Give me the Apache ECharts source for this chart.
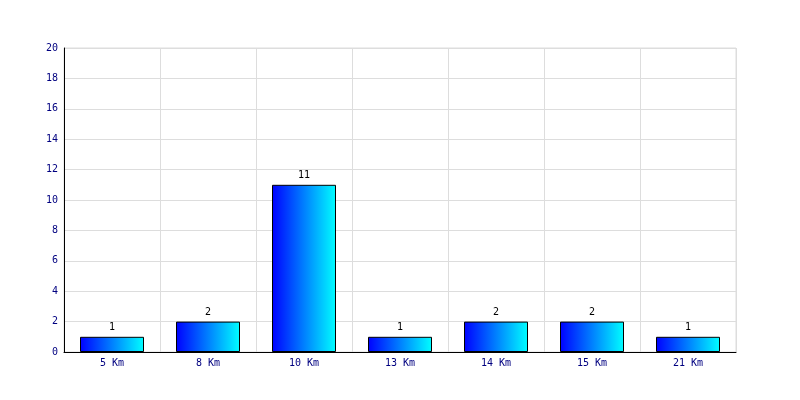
<!DOCTYPE html>
<html><head><meta charset="utf-8">
<script src="https://cdn.jsdelivr.net/npm/echarts@6/dist/echarts.min.js"></script>
<style>html,body{margin:0;padding:0;background:#fff}#c{width:800px;height:400px}</style>
</head><body><div id="c"></div>
<script>
var categories = ['5 Km','8 Km','10 Km','13 Km','14 Km','15 Km','21 Km'];
var values = [1, 2, 11, 1, 2, 2, 1];
var yMin = 0, yMax = 20, yStep = 2;

var chart = echarts.init(document.getElementById('c'), null, {renderer:'canvas'});
var font = '"DejaVu Sans Mono", monospace';
chart.setOption({
  animation: false,
  backgroundColor: '#ffffff',
  grid: {left: 64, right: 64, top: 48, bottom: 48, show: true, borderColor: '#dddddd', borderWidth: 1},
  xAxis: {
    type: 'category', data: categories,
    axisLine: {lineStyle: {color: '#000', width: 1}},
    axisTick: {show: false},
    axisLabel: {color: '#000080', fontFamily: font, fontSize: 10, margin: 6},
    splitLine: {show: true, lineStyle: {color: '#dddddd'}}
  },
  yAxis: {
    type: 'value', min: yMin, max: yMax, interval: yStep,
    axisLine: {show: true, lineStyle: {color: '#000', width: 1}},
    axisTick: {show: false},
    axisLabel: {color: '#000080', fontFamily: font, fontSize: 10, margin: 6},
    splitLine: {show: true, lineStyle: {color: '#dddddd'}}
  },
  series: [{
    type: 'bar', data: values, barWidth: 64,
    itemStyle: {
      color: new echarts.graphic.LinearGradient(0, 0, 1, 0, [
        {offset: 0, color: '#0000ff'}, {offset: 1, color: '#00ffff'}
      ]),
      borderColor: '#000', borderWidth: 1
    },
    label: {show: true, position: 'top', color: '#000', fontFamily: font, fontSize: 10, distance: 4}
  }]
});
</script></body></html>
